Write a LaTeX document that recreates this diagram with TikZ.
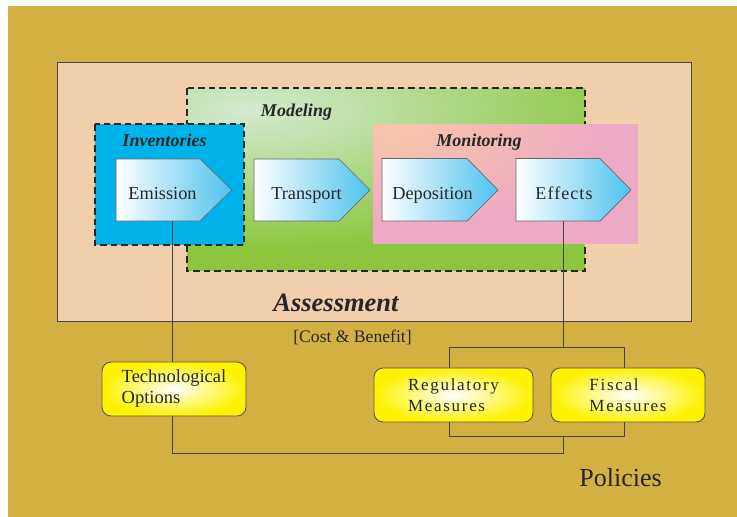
\documentclass[tikz,border=0pt]{standalone}
\usepackage{fontspec}
\setmainfont{Liberation Serif}
\definecolor{gold}{HTML}{D4B043}
\definecolor{peach}{HTML}{F2CFAB}
\definecolor{modgreen}{HTML}{8CC63F}
\definecolor{modlight}{HTML}{D4EAD0}
\definecolor{invblue}{HTML}{00B2EA}
\definecolor{monpink}{HTML}{EEA9C6}
\definecolor{monlight}{HTML}{F6C6A8}
\definecolor{boxyellow}{HTML}{FFF200}
\definecolor{arrowblue}{HTML}{4EC2EE}
\definecolor{edgegray}{HTML}{444444}
\definecolor{textcol}{HTML}{262626}
\begin{document}
\begin{tikzpicture}[x=1pt,y=-1pt,
  chev/.style={draw=edgegray!80, line width=0.7pt, left color=white, right color=arrowblue},
  ybox/.style={draw=edgegray!90, line width=0.9pt, rounded corners=9pt, inner color=white, outer color=boxyellow, align=left, inner sep=0pt, text=textcol, font=\fontsize{18.5}{21}\selectfont},
  wire/.style={draw=edgegray, line width=0.9pt},
  dashbox/.style={draw=black!85, line width=2.2pt, dash pattern=on 6.5pt off 4pt},
  steptext/.style={font=\fontsize{18.3}{20}\selectfont, text=textcol, anchor=base, inner sep=0pt},
  grouplabel/.style={font=\fontsize{18}{20}\selectfont\bfseries\itshape, text=textcol, anchor=base, inner sep=0pt},
  spaced/.style={font=\fontsize{17}{21}\selectfont\addfontfeature{LetterSpace=10}}
  ]
\useasboundingbox (0,0) rectangle (737,517);
\fill[white] (0,0) rectangle (737,517);
\fill[gold] (8,6) rectangle (737,517);

% Assessment
\path[fill=peach, draw=edgegray, line width=0.8pt] (57,62) rectangle (691,321);

% Modeling
\begin{scope}
  \clip (187,88) rectangle (585,271);
  \fill[modgreen] (187,88) rectangle (585,271);
  \shade[inner color=modlight, outer color=modgreen] (245,110) ellipse (400 and 140);
\end{scope}
\draw[dashbox] (187,88) rectangle (585,271);

% Inventories
\fill[invblue] (95,124) rectangle (244,245);
\draw[dashbox] (95,124) rectangle (244,245);

% Monitoring
\begin{scope}
  \clip (373,124) rectangle (638,244);
  \fill[monpink] (373,124) rectangle (638,244);
  \shade[inner color=monlight, outer color=monpink] (395,128) ellipse (220 and 100);
\end{scope}

% group labels
\node[grouplabel] (lmod) at (296.5,116) {Modeling};
\node[grouplabel] (linv) at (164.5,146) {Inventories};
\node[grouplabel] (lmon) at (479,146.5) {Monitoring};
\node[font=\fontsize{26.5}{30}\selectfont\bfseries\itshape, text=textcol, anchor=base, inner sep=0pt] (lass) at (336,311) {Assessment};
\node[font=\fontsize{17.6}{20}\selectfont, text=textcol, anchor=base, inner sep=0pt] (lcost) at (352.5,342) {[Cost \& Benefit]};
\node[font=\fontsize{26}{30}\selectfont, text=textcol, anchor=base, inner sep=0pt] (lpol) at (620.5,486) {Policies};

% connector coordinates
\coordinate (emB) at (172,221);
\coordinate (efB) at (563,221);
\coordinate (j1) at (172,453);
\coordinate (j2) at (563,453);
\coordinate (j3) at (563,436);
\coordinate (t1) at (563,347);
\coordinate (ra) at (449,347);
\coordinate (rb) at (449,370);
\coordinate (fa) at (624,347);
\coordinate (fb) at (624,370);
\coordinate (rc) at (449,418);
\coordinate (rd) at (449,436);
\coordinate (fc) at (624,418);
\coordinate (fd) at (624,436);

\draw[wire] (emB) -- (j1) -- (j2) -- (j3);
\draw[wire] (efB) -- (t1);
\draw[wire] (rb) -- (ra) -- (fa) -- (fb);
\draw[wire] (rc) -- (rd) -- (fd) -- (fc);

% process arrows
\path[chev] (116,159) -- (200,159) -- (232,190) -- (200,221) -- (116,221) -- cycle;
\path[chev] (254,159) -- (339,159) -- (370,190) -- (339,221) -- (254,221) -- cycle;
\path[chev] (382,158.5) -- (467,158.5) -- (498,190) -- (467,221) -- (382,221) -- cycle;
\path[chev] (516,158.5) -- (600,158.5) -- (631,190) -- (600,221) -- (516,221) -- cycle;
\node[steptext] (emi) at (162.5,199) {Emission};
\node[steptext] (tra) at (306.5,199) {Transport};
\node[steptext] (dep) at (432.5,199) {Deposition};
\node[steptext, font=\fontsize{18}{20}\selectfont\addfontfeature{LetterSpace=6}] (eff) at (564,199) {Effects};

% policy boxes
\node[ybox, minimum width=144pt, minimum height=54pt] (tech) at (174,389) {Technological\\Options};
\node[ybox, spaced, minimum width=159pt, minimum height=54pt] (reg) at (453.5,395) {Regulatory\\Measures};
\node[ybox, spaced, minimum width=154pt, minimum height=54pt] (fis) at (628,395) {Fiscal\\Measures};
\end{tikzpicture}
\end{document}
